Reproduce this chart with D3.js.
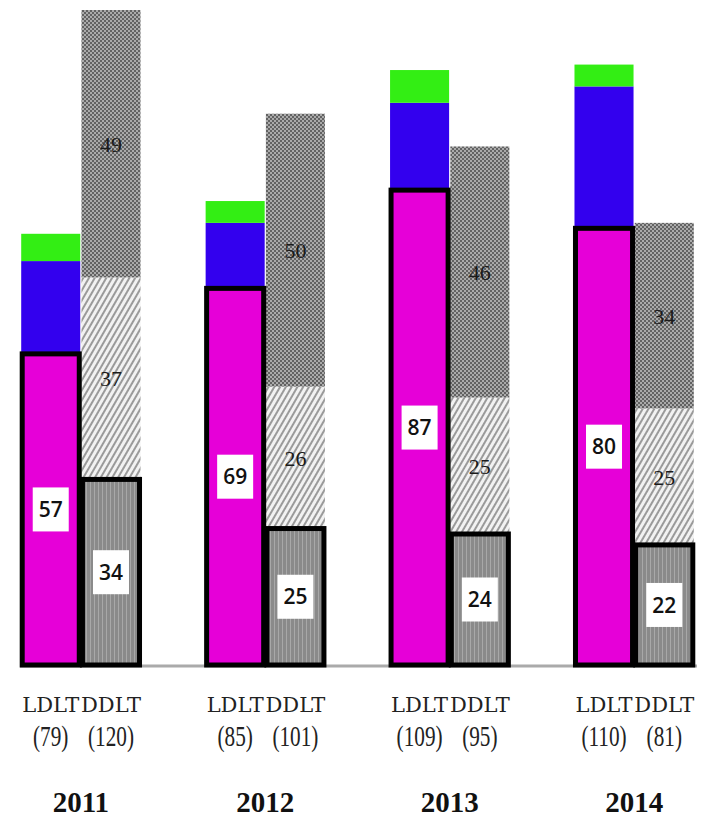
<!DOCTYPE html>
<html>
<head>
<meta charset="utf-8">
<script src="https://cdn.jsdelivr.net/npm/d3@7"></script>
<style>
  body { margin: 0; background: #ffffff; }
</style>
</head>
<body>
<div id="chart"></div>
<script>
// LDLT vs DDLT per year, stacked

var years = ["2011", "2012", "2013", "2014"];
var types = ["LDLT", "DDLT"];

var ldltTotal = [79, 85, 109, 110];
var ddltTotal = [120, 101, 95, 81];

// LDLT segments (bottom -> top)
var ldltMain = [57, 69, 87, 80];
var ldltBlue = [17, 12, 16, 26];
var ldltGreen = [5, 4, 6, 4];

// DDLT segments (bottom -> top)
var ddltBottom = [34, 25, 24, 22];
var ddltMiddle = [37, 26, 25, 25];
var ddltTop = [49, 50, 46, 34];

var totalWidth = 718;
var totalHeight = 819;

var x0 = d3.scaleBand().domain(years).range([20, 695]).paddingInner(0.34).paddingOuter(0);
var x1 = d3.scaleBand().domain(types).range([0, x0.bandwidth()]).padding(0.02);
var y = d3.scaleLinear().domain([0, 120]).range([665, 10]);

var svg = d3.select('#chart')
    .append('svg')
        .attr('width', totalWidth)
        .attr('height', totalHeight)
        .attr('style', 'background-color: #ffffff;');

// patterns
var defs = svg.append('defs');

var checker = defs.append('pattern')
    .attr('id', 'checker')
    .attr('patternUnits', 'userSpaceOnUse')
    .attr('width', 4).attr('height', 4);
checker.append('rect').attr('width', 4).attr('height', 4).attr('fill', '#aaaaaa');
checker.append('rect').attr('width', 2).attr('height', 2).attr('fill', '#626262');
checker.append('rect').attr('x', 2).attr('y', 2).attr('width', 2).attr('height', 2).attr('fill', '#626262');

var hatch = defs.append('pattern')
    .attr('id', 'hatch')
    .attr('patternUnits', 'userSpaceOnUse')
    .attr('width', 5).attr('height', 5)
    .attr('patternTransform', 'rotate(30)');
hatch.append('rect').attr('width', 5).attr('height', 5).attr('fill', '#f2f2f2');
hatch.append('line').attr('x1', 1).attr('y1', 0).attr('x2', 1).attr('y2', 5)
    .attr('stroke', '#9a9a9a').attr('stroke-width', 2);

var stripes = defs.append('pattern')
    .attr('id', 'stripes')
    .attr('patternUnits', 'userSpaceOnUse')
    .attr('width', 4).attr('height', 4);
stripes.append('rect').attr('width', 4).attr('height', 4).attr('fill', '#8a8a8a');
stripes.append('rect').attr('x', 2).attr('width', 1).attr('height', 4).attr('fill', '#a8a8a8');

// baseline
svg.append('line')
    .attr('x1', x0.range()[0]).attr('x2', x0.range()[1] + 2)
    .attr('y1', y(0) + 1).attr('y2', y(0) + 1)
    .attr('stroke', '#aaaaaa').attr('stroke-width', 3);

// build segments from the arrays
var segments = [];
years.forEach(function(yr, i) {
    var ld = [
        {v: ldltMain[i], fill: '#e600d8', box: true, label: true},
        {v: ldltBlue[i], fill: '#3300ee'},
        {v: ldltGreen[i], fill: '#33ee14'}
    ];
    var dd = [
        {v: ddltBottom[i], fill: 'url(#stripes)', box: true, label: true},
        {v: ddltMiddle[i], fill: 'url(#hatch)', text: true},
        {v: ddltTop[i], fill: 'url(#checker)', text: true}
    ];
    [['LDLT', ld], ['DDLT', dd]].forEach(function(pair) {
        var acc = 0;
        pair[1].forEach(function(s) {
            s.year = yr; s.type = pair[0];
            s.y0 = acc; s.y1 = acc + s.v; acc = s.y1;
            segments.push(s);
        });
    });
});

function bx(d) { return x0(d.year) + x1(d.type); }

// fills
svg.selectAll('rect.seg').data(segments).enter().append('rect')
    .attr('class', 'seg')
    .attr('x', bx)
    .attr('y', function(d) { return y(d.y1); })
    .attr('width', x1.bandwidth())
    .attr('height', function(d) { return y(d.y0) - y(d.y1); })
    .attr('fill', function(d) { return d.fill; });

// thick black boxes around bottom segments
svg.selectAll('rect.box').data(segments.filter(function(d) { return d.box; })).enter().append('rect')
    .attr('class', 'box')
    .attr('x', function(d) { return bx(d) + 1; })
    .attr('y', function(d) { return y(d.y1); })
    .attr('width', x1.bandwidth() - 2)
    .attr('height', function(d) { return y(d.y0) - y(d.y1); })
    .attr('fill', 'none')
    .attr('stroke', '#000000')
    .attr('stroke-width', 5);

// white label boxes
var boxed = svg.selectAll('g.lbl').data(segments.filter(function(d) { return d.label; })).enter().append('g')
    .attr('class', 'lbl')
    .attr('transform', function(d) {
        return 'translate(' + (bx(d) + x1.bandwidth() / 2) + ',' + ((y(d.y0) + y(d.y1)) / 2) + ')';
    });
boxed.append('rect')
    .attr('x', -18).attr('y', -22).attr('width', 36).attr('height', 44)
    .attr('fill', '#ffffff');
boxed.append('text')
    .attr('text-anchor', 'middle')
    .attr('dy', '0.36em')
    .attr('font-family', 'Open Sans, sans-serif')
    .attr('font-weight', 600)
    .attr('font-size', 21)
    .attr('fill', '#111')
    .text(function(d) { return d.v; });

// plain labels on patterned segments
svg.selectAll('text.plain').data(segments.filter(function(d) { return d.text; })).enter().append('text')
    .attr('class', 'plain')
    .attr('x', function(d) { return bx(d) + x1.bandwidth() / 2; })
    .attr('y', function(d) { return (y(d.y0) + y(d.y1)) / 2; })
    .attr('dy', '0.36em')
    .attr('text-anchor', 'middle')
    .attr('font-family', 'Liberation Serif, serif')
    .attr('font-size', 22)
    .attr('fill', '#1a1a1a')
    .text(function(d) { return d.v; });

// axis labels: type, total, year
var typeRows = [];
years.forEach(function(yr, i) {
    typeRows.push({year: yr, type: 'LDLT', total: ldltTotal[i]});
    typeRows.push({year: yr, type: 'DDLT', total: ddltTotal[i]});
});

svg.selectAll('text.type').data(typeRows).enter().append('text')
    .attr('class', 'type')
    .attr('x', function(d) { return x0(d.year) + x1(d.type) + x1.bandwidth() / 2; })
    .attr('y', 712)
    .attr('text-anchor', 'middle')
    .attr('font-family', 'DejaVu Serif, serif')
    .attr('font-size', 21)
    .attr('fill', '#222')
    .text(function(d) { return d.type; });

svg.selectAll('text.total').data(typeRows).enter().append('text')
    .attr('class', 'total')
    .attr('transform', function(d) {
        return 'translate(' + (x0(d.year) + x1(d.type) + x1.bandwidth() / 2) + ',746) scale(0.85,1.15)';
    })
    .attr('text-anchor', 'middle')
    .attr('font-family', 'Liberation Serif, serif')
    .attr('font-size', 25)
    .attr('fill', '#222')
    .text(function(d) { return '(' + d.total + ')'; });

svg.selectAll('text.year').data(years).enter().append('text')
    .attr('class', 'year')
    .attr('x', function(d) { return x0(d) + x0.bandwidth() / 2; })
    .attr('y', 812)
    .attr('text-anchor', 'middle')
    .attr('font-family', 'Liberation Serif, serif')
    .attr('font-weight', 'bold')
    .attr('font-size', 29)
    .attr('fill', '#111')
    .text(function(d) { return d; });
</script>
</body>
</html>
